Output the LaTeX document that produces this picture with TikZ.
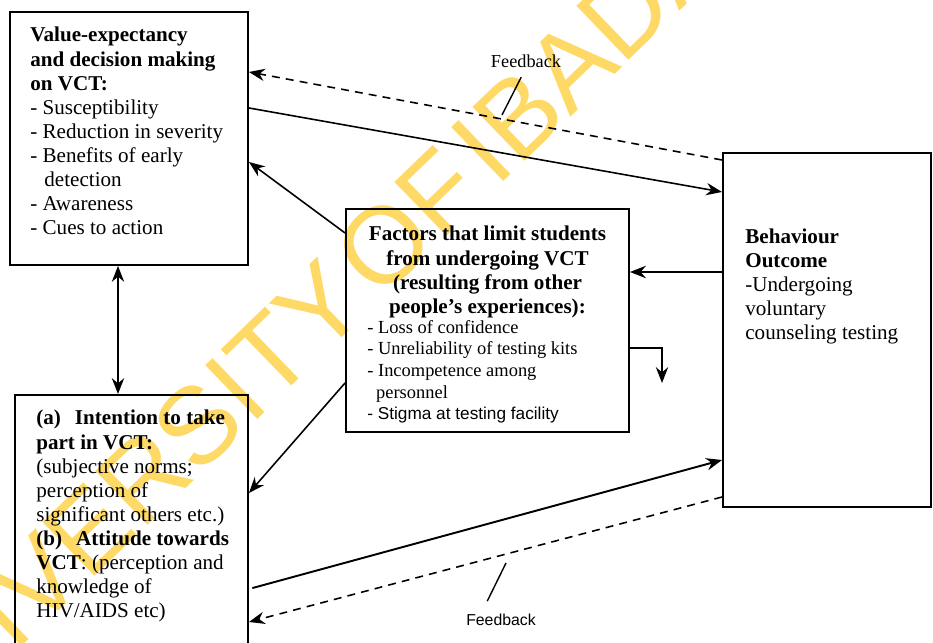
\documentclass[tikz,border=0pt]{standalone}
\usepackage{fontspec}
\setmainfont{Liberation Serif}
\setsansfont{Liberation Sans}
\newfontfamily\wmfont{Liberation Sans}
\usepackage{tikz}
\usetikzlibrary{arrows.meta,fit,positioning}
\definecolor{wmark}{RGB}{255,217,102}
\tikzstyle{block}  = [draw, line width=1.1pt, inner sep=0pt]
\tikzstyle{txt}    = [anchor=north west, inner sep=0pt, align=left, font=\fontsize{12}{13.7}\selectfont]
\tikzstyle{flow}   = [line width=0.9pt, ->, >={Stealth[length=9pt,width=7pt]}]
\tikzstyle{fback}  = [flow, dash pattern=on 4.5pt off 3.5pt]
\tikzstyle{leader} = [line width=0.8pt]

\begin{document}
\begin{tikzpicture}[x=2cm,y=2cm]
        \useasboundingbox (0,0) rectangle (9.33,6.43);
        \node[rotate=44, text=wmark, inner sep=0pt, font=\wmfont\fontsize{62}{62}\selectfont] (wm) at (3.19,3.35) {UNIVERSITY\hspace{0.1em}OF\hspace{0.1em}IBADAN};

        \node[block, fit={(0.10,3.78) (2.48,6.31)}] (valbox) {};
        \node[block, fit={(0.15,-0.20) (2.48,2.48)}] (intbox) {};
        \node[block, fit={(3.46,2.11) (6.29,4.34)}] (facbox) {};
        \node[block, fit={(7.23,1.36) (9.31,4.90)}] (behbox) {};

        \node[txt] (valtxt) at (0.30,6.16) {\textbf{Value-expectancy}\\ \textbf{and decision making}\\ \textbf{on VCT:}\\ - Susceptibility\\ - Reduction in severity\\ - Benefits of early\\ \hspace*{8pt}detection\\ - Awareness\\ - Cues to action};
        \node[txt] (inttxt) at (0.36,2.33) {\textbf{(a)\hspace{8pt}Intention to take}\\ \textbf{part in VCT:}\\ (subjective norms;\\ perception of\\ significant others etc.)\\ \textbf{(b)\hspace{8pt}Attitude towards}\\ \textbf{VCT}: (perception and\\ knowledge of\\ HIV/AIDS etc)};
        \node[anchor=north, inner sep=0pt, align=center, font=\fontsize{12}{13.7}\selectfont\bfseries] (factitle) at (4.875,4.17) {Factors that limit students\\ from undergoing VCT\\ (resulting from other\\ people's experiences):};
        \node[txt, font=\fontsize{10.5}{12.3}\selectfont] (faclist) at (3.67,3.23) {- Loss of confidence\\ - Unreliability of testing kits\\ - Incompetence among\\ \hspace*{5pt}personnel\\ {\sffamily\fontsize{9.8}{12.3}\selectfont - Stigma at testing facility}};
        \node[txt] (behtxt) at (7.45,4.145) {\textbf{Behaviour}\\ \textbf{Outcome}\\ -Undergoing\\ voluntary\\ counseling testing};

        \node[inner sep=0pt, font=\fontsize{10.4}{12}\selectfont] (fbtop) at (5.26,5.82) {Feedback};
        \node[inner sep=0pt, font=\sffamily\fontsize{9}{11}\selectfont] (fbbot) at (5.01,0.23) {Feedback};
        \coordinate (fbtopend) at (5.02,5.28);
        \coordinate (fbbotend) at (5.06,0.80);
        \coordinate (elbow) at (6.62,2.60);

        \draw[fback] (behbox.west |- 0,4.83) -- (valbox.east |- 0,5.71);
        \draw[flow] (valbox.east |- 0,5.35) -- (behbox.west |- 0,4.51);
        \draw[flow] (facbox.west |- 0,4.10) -- (valbox.east |- 0,4.81);
        \draw[flow, line width=1.1pt, <->] (valbox.south -| 1.18,0) -- (intbox.north -| 1.18,0);
        \draw[flow] (facbox.west |- 0,2.60) -- (intbox.east |- 0,1.50);
        \draw[flow, line width=1.6pt] (behbox.west |- 0,3.71) -- (facbox.east |- 0,3.71);
        \draw[flow] (facbox.east |- 0,2.95) -| (elbow);
        \draw[flow, line width=1.1pt, shorten <=2pt] (intbox.east |- 0,0.54) -- (behbox.west |- 0,1.83);
        \draw[fback] (behbox.west |- 0,1.46) -- (intbox.east |- 0,0.21);

        \draw[leader, shorten <=6pt] (fbtop.south) -- (fbtopend);
        \draw[leader, shorten <=8pt] ([xshift=-0.4cm]fbbot.north) -- (fbbotend);
    \end{tikzpicture}
\end{document}
